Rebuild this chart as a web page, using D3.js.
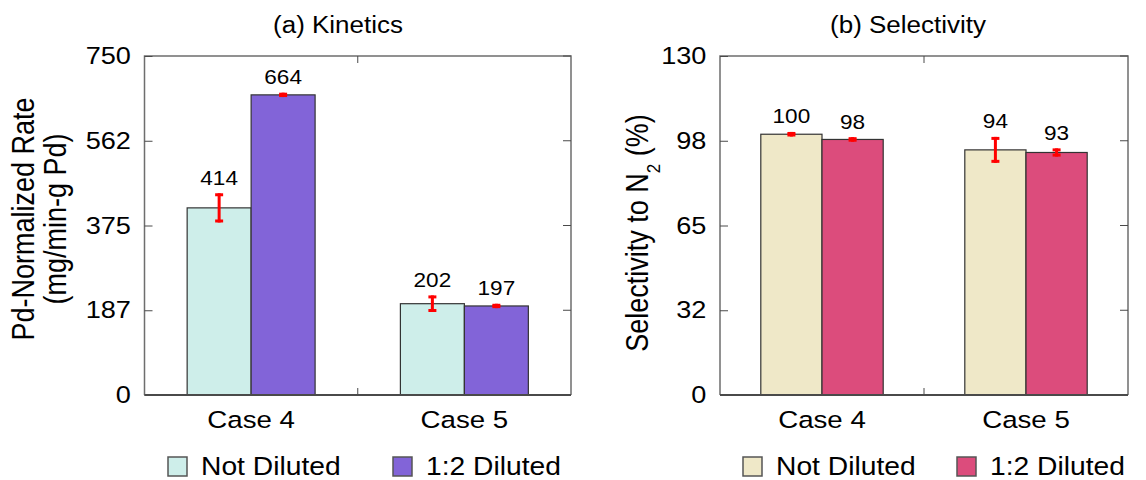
<!DOCTYPE html>
<html lang="en">
<head>
  <meta charset="UTF-8" />
  <title>Kinetics and Selectivity</title>
  <script src="https://d3js.org/d3.v7.min.js"></script>
  <style>
    body {
      margin: 0;
      background-color: #ffffff;
    }

    svg text {
      font-family: "Liberation Sans", Arial, sans-serif;
      fill: #000;
    }

    .frame {
      fill: none;
      stroke: #6e6e6e;
      stroke-width: 1.5px;
    }

    .baseline {
      stroke: #4a4a4a;
      stroke-width: 2px;
    }

    .tick-mark {
      stroke: #4a4a4a;
      stroke-width: 1px;
    }

    .bar {
      stroke: #333;
      stroke-width: 1.2px;
    }

    .err {
      stroke: #ff0000;
      stroke-width: 3px;
    }
  </style>
</head>

<body>
  <svg id="chart" width="1146" height="480"></svg>

  <script>
    // ---- data ----
    const cases = ["Case 4", "Case 5"];
    const series = ["Not Diluted", "1:2 Diluted"];

    // (a) kinetics, mg/min-g Pd
    const rateNotDiluted = [414, 202];
    const rateDiluted = [664, 197];
    const rateErrNotDiluted = [29, 15];
    const rateErrDiluted = [1.5, 1.5];
    const rateTicks = [0, 187.5, 375, 562.5, 750];
    const rateTickLabels = ["0", "187", "375", "562", "750"];

    // (b) selectivity to N2, %
    const selNotDiluted = [100, 94];
    const selDiluted = [98, 93];
    const selErrNotDiluted = [0.3, 4.4];
    const selErrDiluted = [0.3, 1];
    const selTicks = [0, 32.5, 65, 97.5, 130];
    const selTickLabels = ["0", "32", "65", "98", "130"];

    const rateColors = ["#ceeeea", "#8264d8"];
    const selColors = ["#efe8c8", "#dc4c7c"];

    // the original picture is stretched horizontally a little
    const SX = 1.13;

    const svg = d3.select("#chart");

    function label(g, x, y, str, size, anchor) {
      return g.append("text")
        .attr("transform", `translate(${x},${y}) scale(${SX},1)`)
        .attr("text-anchor", anchor || "middle")
        .style("font-size", size + "px")
        .text(str);
    }

    function drawPanel(opts) {
      const { left, right, top, bottom } = opts;
      const w = right - left;
      const h = bottom - top;
      const g = svg.append("g").attr("transform", `translate(${left},${top})`);

      const x0 = d3.scaleBand().domain(cases).range([0, w]);
      const bw = x0.bandwidth();
      const x1 = d3.scaleBand().domain(series).range([bw * 0.2, bw * 0.8]);
      const y = d3.scaleLinear().domain([0, opts.ticks[opts.ticks.length - 1]]).range([h, 0]);

      // frame
      g.append("path")
        .attr("class", "frame")
        .attr("d", `M0,${h}V0H${w}V${h}`);

      // left axis with inward ticks
      const yAxis = d3.axisLeft(y)
        .tickValues(opts.ticks)
        .tickFormat((d, i) => opts.tickLabels[i])
        .tickSizeInner(-8)
        .tickSizeOuter(0)
        .tickPadding(12);
      const ax = g.append("g").call(yAxis);
      ax.select(".domain").remove();
      ax.selectAll("line").attr("stroke", "#4a4a4a");
      ax.selectAll("text")
        .attr("transform", `scale(${SX},1)`)
        .style("font-size", "24px")
        .attr("font-family", null);

      // right side inward ticks
      g.selectAll("line.rtick")
        .data(opts.ticks)
        .join("line")
        .attr("class", "tick-mark")
        .attr("x1", w - 8).attr("x2", w)
        .attr("y1", d => y(d)).attr("y2", d => y(d));

      // separator ticks between the cases
      const mid = x0.step();
      g.append("line").attr("class", "tick-mark")
        .attr("x1", mid).attr("x2", mid).attr("y1", 0).attr("y2", 7);
      g.append("line").attr("class", "tick-mark")
        .attr("x1", mid).attr("x2", mid).attr("y1", h).attr("y2", h - 7);

      // bars
      const rows = [];
      cases.forEach((c, i) => {
        series.forEach((s, j) => {
          rows.push({
            c: c, s: s, j: j,
            v: opts.values[j][i],
            e: opts.errors[j][i]
          });
        });
      });

      const grp = g.selectAll("g.bar-item")
        .data(rows)
        .join("g")
        .attr("class", "bar-item");

      grp.append("rect")
        .attr("class", "bar")
        .attr("x", d => x0(d.c) + x1(d.s))
        .attr("width", x1.bandwidth())
        .attr("y", d => y(d.v))
        .attr("height", d => h - y(d.v))
        .attr("fill", d => opts.colors[d.j]);

      const cx = d => x0(d.c) + x1(d.s) + x1.bandwidth() / 2;

      grp.append("line")
        .attr("class", "err")
        .attr("x1", cx).attr("x2", cx)
        .attr("y1", d => y(d.v + d.e) - 1.5)
        .attr("y2", d => y(d.v - d.e) + 1.5);
      grp.append("line")
        .attr("class", "err")
        .attr("x1", d => cx(d) - 4).attr("x2", d => cx(d) + 4)
        .attr("y1", d => y(d.v + d.e)).attr("y2", d => y(d.v + d.e));
      grp.append("line")
        .attr("class", "err")
        .attr("x1", d => cx(d) - 4).attr("x2", d => cx(d) + 4)
        .attr("y1", d => y(d.v - d.e)).attr("y2", d => y(d.v - d.e));

      rows.forEach(d => {
        label(g, cx(d), y(d.v + d.e) - 10, d.v, 20);
      });

      // bottom line
      g.append("line").attr("class", "baseline")
        .attr("x1", 0).attr("x2", w).attr("y1", h).attr("y2", h);

      // case labels
      cases.forEach(c => {
        label(g, x0(c) + bw / 2, h + 33, c, 24.5);
      });

      // title
      label(svg, opts.titleX, 33, opts.title, 23);

      // legend
      series.forEach((s, j) => {
        svg.append("rect")
          .attr("x", opts.legendX[j])
          .attr("y", 457)
          .attr("width", 19)
          .attr("height", 19)
          .attr("fill", opts.colors[j])
          .attr("stroke", "#555")
          .attr("stroke-width", 1.5);
        label(svg, opts.legendX[j] + 33, 475, s, 25, "start");
      });

      return g;
    }

    drawPanel({
      left: 144.5, right: 571, top: 56, bottom: 395,
      ticks: rateTicks, tickLabels: rateTickLabels,
      values: [rateNotDiluted, rateDiluted],
      errors: [rateErrNotDiluted, rateErrDiluted],
      colors: rateColors,
      title: "(a) Kinetics", titleX: 338,
      legendX: [168, 393]
    });

    drawPanel({
      left: 720, right: 1128, top: 56, bottom: 395,
      ticks: selTicks, tickLabels: selTickLabels,
      values: [selNotDiluted, selDiluted],
      errors: [selErrNotDiluted, selErrDiluted],
      colors: selColors,
      title: "(b) Selectivity", titleX: 908,
      legendX: [743, 957]
    });

    // y axis titles
    const t1 = svg.append("text")
      .attr("transform", `translate(34,219) scale(${SX},1) rotate(-90)`)
      .attr("text-anchor", "middle")
      .style("font-size", "27px");
    t1.append("tspan").attr("x", 0).attr("dy", 0).text("Pd-Normalized Rate");
    t1.append("tspan").attr("x", 0).attr("dy", 28).text("(mg/min-g Pd)");

    const t2 = svg.append("text")
      .attr("transform", `translate(648,233) scale(${SX},1) rotate(-90)`)
      .attr("text-anchor", "middle")
      .style("font-size", "27px");
    t2.append("tspan").text("Selectivity to N");
    t2.append("tspan").attr("dy", 11).style("font-size", "17px").text("2");
    t2.append("tspan").attr("dy", -11).text(" (%)");
  </script>
</body>
</html>
